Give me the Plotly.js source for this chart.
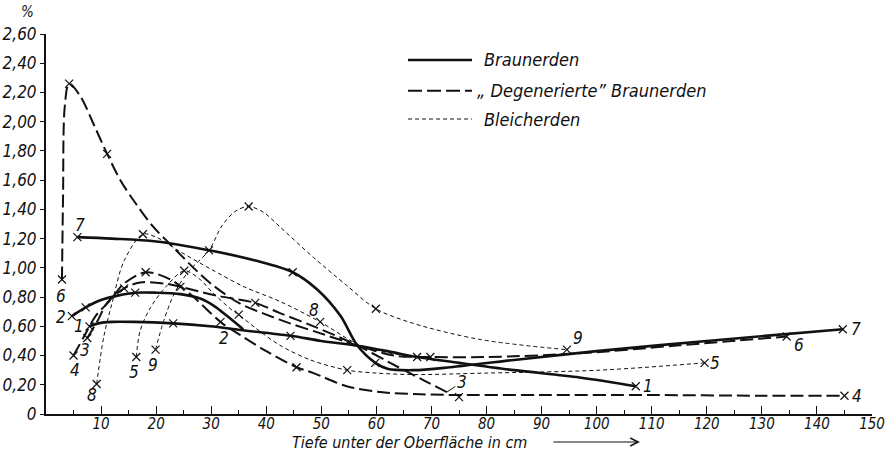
<!DOCTYPE html>
<html><head><meta charset="utf-8">
<script src="https://cdn.plot.ly/plotly-3.0.1.min.js"></script>
<style>html,body{margin:0;padding:0;background:#fff;}#chart{width:887px;height:452px;}</style>
</head><body><div id="chart"></div>
<script>
// ---- data (depth in cm, value in %) ----
// Braunerden (solid)
const c1x = [7.9, 9.5, 12, 16, 23.1, 29.8, 35.3, 44.4, 50, 56.8, 62, 67.4, 75, 85, 96.9, 107.1];
const c1y = [0.60, 0.62, 0.63, 0.63, 0.62, 0.60, 0.575, 0.535, 0.50, 0.465, 0.43, 0.39, 0.35, 0.30, 0.25, 0.19];
const c1mx = [7.9, 23.1, 44.4, 67.4, 107.1];
const c1my = [0.60, 0.62, 0.535, 0.39, 0.19];

const c2x = [4.7, 7.2, 10, 13, 16.2, 20, 24.4, 28, 30.5, 32.9, 35.8];
const c2y = [0.67, 0.73, 0.78, 0.81, 0.83, 0.83, 0.82, 0.79, 0.74, 0.67, 0.58];
const c2mx = [4.7, 7.2, 16.2];
const c2my = [0.67, 0.73, 0.83];

const c7x = [5.7, 12, 20, 29.6, 38, 44.8, 49.3, 53.5, 56.5, 59.8, 62, 66.7, 73.4, 85, 100, 120, 144.7];
const c7y = [1.21, 1.20, 1.18, 1.12, 1.05, 0.97, 0.85, 0.67, 0.47, 0.35, 0.31, 0.30, 0.32, 0.37, 0.43, 0.50, 0.58];
const c7mx = [5.7, 29.6, 44.8, 59.8, 144.7];
const c7my = [1.21, 1.12, 0.97, 0.35, 0.58];

// "Degenerierte" Braunerden (long dash)
const c3x = [7.5, 9.4, 11.1, 14.2, 17.1, 22, 24.4, 31, 38, 42.5, 48.6, 56.5, 62.5, 68.6, 72.8];
const c3y = [0.52, 0.64, 0.76, 0.86, 0.90, 0.89, 0.87, 0.81, 0.76, 0.69, 0.60, 0.47, 0.35, 0.23, 0.15];
const c3mx = [7.5, 14.2, 24.4, 38];
const c3my = [0.52, 0.86, 0.87, 0.76];

const c4x = [5.0, 6.9, 9, 11.7, 14.1, 18.1, 22.6, 26.8, 31.7, 35.3, 40, 45.5, 48.6, 54.6, 60.7, 68, 75, 90, 110, 130, 145];
const c4y = [0.40, 0.53, 0.67, 0.78, 0.89, 0.97, 0.92, 0.80, 0.63, 0.54, 0.43, 0.32, 0.28, 0.19, 0.15, 0.135, 0.13, 0.13, 0.13, 0.125, 0.125];
const c4mx = [5.0, 18.1, 31.7, 45.5, 75, 145];
const c4my = [0.40, 0.97, 0.63, 0.32, 0.115, 0.125];

const c6x = [2.9, 3.1, 3.4, 4.2, 6.3, 8.8, 11.1, 13.5, 16.3, 19.5, 22.6, 26.8, 30, 35, 40, 44.3, 50, 56.5, 63.2, 69.8, 80, 96.9, 115, 134.5];
const c6y = [0.92, 1.5, 2.1, 2.26, 2.17, 1.97, 1.78, 1.60, 1.44, 1.28, 1.16, 1.00, 0.89, 0.76, 0.68, 0.62, 0.55, 0.47, 0.40, 0.39, 0.39, 0.415, 0.47, 0.53];
const c6mx = [2.9, 4.2, 11.1, 69.8, 134.5];
const c6my = [0.92, 2.26, 1.78, 0.39, 0.53];

// Bleicherden (short dash)
const c5x = [16.4, 17.1, 19, 22, 25.1, 28, 30, 33.5, 35, 38, 42.5, 48, 54.7, 60, 66.8, 80, 100.6, 119.6];
const c5y = [0.39, 0.57, 0.73, 0.88, 0.98, 0.92, 0.84, 0.72, 0.68, 0.59, 0.47, 0.37, 0.30, 0.28, 0.27, 0.28, 0.30, 0.35];
const c5mx = [16.4, 25.1, 35, 54.7, 119.6];
const c5my = [0.39, 0.98, 0.68, 0.30, 0.35];

const c8x = [9.2, 10.5, 12, 14.2, 17.6, 20, 24.4, 30, 36, 42.5, 49.8, 56.5, 62, 67.4];
const c8y = [0.205, 0.53, 0.76, 1.05, 1.23, 1.21, 1.11, 0.99, 0.87, 0.77, 0.63, 0.48, 0.42, 0.39];
const c8mx = [9.2, 17.6, 49.8];
const c8my = [0.205, 1.23, 0.63];

const c9x = [19.9, 21.4, 23.5, 26, 29.6, 32, 34.5, 36.8, 39.5, 42.5, 48.6, 54.6, 59.9, 66.7, 78.8, 94.6];
const c9y = [0.44, 0.64, 0.84, 0.98, 1.12, 1.29, 1.39, 1.42, 1.38, 1.28, 1.07, 0.88, 0.72, 0.62, 0.51, 0.44];
const c9mx = [19.9, 36.8, 59.9, 94.6];
const c9my = [0.44, 1.42, 0.72, 0.44];

// curve number labels
const labelText = ["7", "6", "2", "1", "3", "4", "8", "5", "9", "2", "8", "9", "1", "5", "6", "7", "4"];
const labelX = [6.2, 2.7, 2.7, 6.0, 7.1, 5.3, 8.3, 16.0, 19.5, 32.3, 48.6, 96.7, 109.4, 121.5, 136.7, 147.1, 147.3];
const labelY = [1.29, 0.81, 0.665, 0.60, 0.44, 0.30, 0.13, 0.29, 0.335, 0.52, 0.71, 0.52, 0.19, 0.35, 0.47, 0.58, 0.125];

// axis ticks
const yTickVals = [0, 0.2, 0.4, 0.6, 0.8, 1.0, 1.2, 1.4, 1.6, 1.8, 2.0, 2.2, 2.4, 2.6];
const yTickText = ["0", "0,20", "0,40", "0,60", "0,80", "1,00", "1,20", "1,40", "1,60", "1,80", "2,00", "2,20", "2,40", "2,60"];
const xTickVals = [10, 20, 30, 40, 50, 60, 70, 80, 90, 100, 110, 120, 130, 140, 150];
const xTickText = ["10", "20", "30", "40", "50", "60", "70", "80", "90", "100", "110", "120", "130", "140", "150"];

const legendNames = ["Braunerden", "\u201E Degenerierte\u201D Braunerden", "Bleicherden"];
const xTitle = "Tiefe unter der Oberfläche in cm";

// ---- styles ----
const FONT = "DejaVu Sans Condensed, DejaVu Sans, sans-serif";
const styles = {
  solid: {color: "#111", width: 2.6, dash: "solid"},
  long:  {color: "#111", width: 2.0, dash: "13px,5px"},
  short: {color: "#111", width: 1.0, dash: "4px,3px"}
};

const curves = [
  [c1x, c1y, c1mx, c1my, "solid"],
  [c2x, c2y, c2mx, c2my, "solid"],
  [c7x, c7y, c7mx, c7my, "solid"],
  [c3x, c3y, c3mx, c3my, "long"],
  [c4x, c4y, c4mx, c4my, "long"],
  [c6x, c6y, c6mx, c6my, "long"],
  [c5x, c5y, c5mx, c5my, "short"],
  [c8x, c8y, c8mx, c8my, "short"],
  [c9x, c9y, c9mx, c9my, "short"]
];

const traces = [];
curves.forEach(([x, y, mx, my, st]) => {
  traces.push({x: x, y: y, type: "scatter", mode: "lines", showlegend: false,
    line: Object.assign({shape: "spline", smoothing: 0.9}, styles[st]), hoverinfo: "skip", cliponaxis: false});
  traces.push({x: mx, y: my, type: "scatter", mode: "markers", showlegend: false,
    marker: {symbol: "x-thin", size: 8, color: "#111", line: {color: "#111", width: 1.2}}, hoverinfo: "skip", cliponaxis: false});
});

const lblFont = {family: FONT, size: 17, color: "#111", style: "italic"};
const annotations = labelText.map((t, i) => ({
  x: labelX[i], y: labelY[i], xref: "x", yref: "y", text: t, showarrow: false, font: lblFont
}));
// leader for label 3 at the end of curve 3
annotations.push({x: c3x[c3x.length - 1], y: c3y[c3y.length - 1], xref: "x", yref: "y", text: "3",
  showarrow: true, arrowhead: 0, arrowwidth: 1, arrowcolor: "#111", ax: 15, ay: -10, standoff: 0, font: lblFont});
// % unit
annotations.push({x: -0.022, y: 1.058, xref: "paper", yref: "paper", xanchor: "center", yanchor: "middle",
  text: "%", showarrow: false, font: {family: FONT, size: 15, color: "#111", style: "italic"}});
// x title
annotations.push({x: 0.296, y: -0.0737, xref: "paper", yref: "paper", xanchor: "left", yanchor: "middle",
  text: xTitle, showarrow: false, font: {family: FONT, size: 16, color: "#111", style: "italic"}});
annotations.push({x: 0.719, y: -0.0737, xref: "paper", yref: "paper", text: "", showarrow: true,
  arrowhead: 5, arrowsize: 1.3, arrowwidth: 1.2, arrowcolor: "#111", ax: -88, ay: 0});

// legend (drawn)
const legY = [0.9316, 0.8508, 0.7763];
const legSt = ["solid", "long", "short"];
const shapes = [];
legSt.forEach((st, i) => {
  shapes.push({type: "line", xref: "paper", yref: "paper", x0: 0.4383, x1: 0.5157, y0: legY[i], y1: legY[i],
    line: {color: "#111", width: styles[st].width, dash: st === "long" ? "14px,5px" : styles[st].dash}});
  annotations.push({x: i === 1 ? 0.519 : 0.528, y: legY[i], xref: "paper", yref: "paper", xanchor: "left",
    yanchor: "middle", text: legendNames[i], showarrow: false,
    font: {family: FONT, size: 18, color: "#111", style: "italic"}});
});

const layout = {
  width: 887, height: 452,
  margin: {l: 46, r: 15, t: 34, b: 38},
  paper_bgcolor: "#fff", plot_bgcolor: "#fff",
  showlegend: false,
  font: {family: FONT, color: "#111", size: 17, style: "italic"},
  xaxis: {range: [0, 150], showgrid: false, zeroline: false, showline: true, linewidth: 2, linecolor: "#111",
    tickvals: xTickVals, ticktext: xTickText, ticks: "inside", ticklen: 8, tickwidth: 1, tickcolor: "#111",
    ticklabelstandoff: -5,
    minor: {dtick: 5, tick0: 0, ticks: "inside", ticklen: 4, tickwidth: 1, tickcolor: "#111", showgrid: false},
    tickfont: {family: FONT, size: 15, color: "#111", style: "italic"}, fixedrange: true},
  yaxis: {range: [0, 2.6], showgrid: false, zeroline: false, showline: true, linewidth: 2, linecolor: "#111",
    tickvals: yTickVals, ticktext: yTickText, ticks: "outside", ticklen: 4, tickwidth: 1, tickcolor: "#111",
    tickfont: {family: FONT, size: 17, color: "#111", style: "italic"}, fixedrange: true},
  annotations: annotations,
  shapes: shapes
};

Plotly.newPlot("chart", traces, layout, {displayModeBar: false, staticPlot: true});
</script></body></html>
